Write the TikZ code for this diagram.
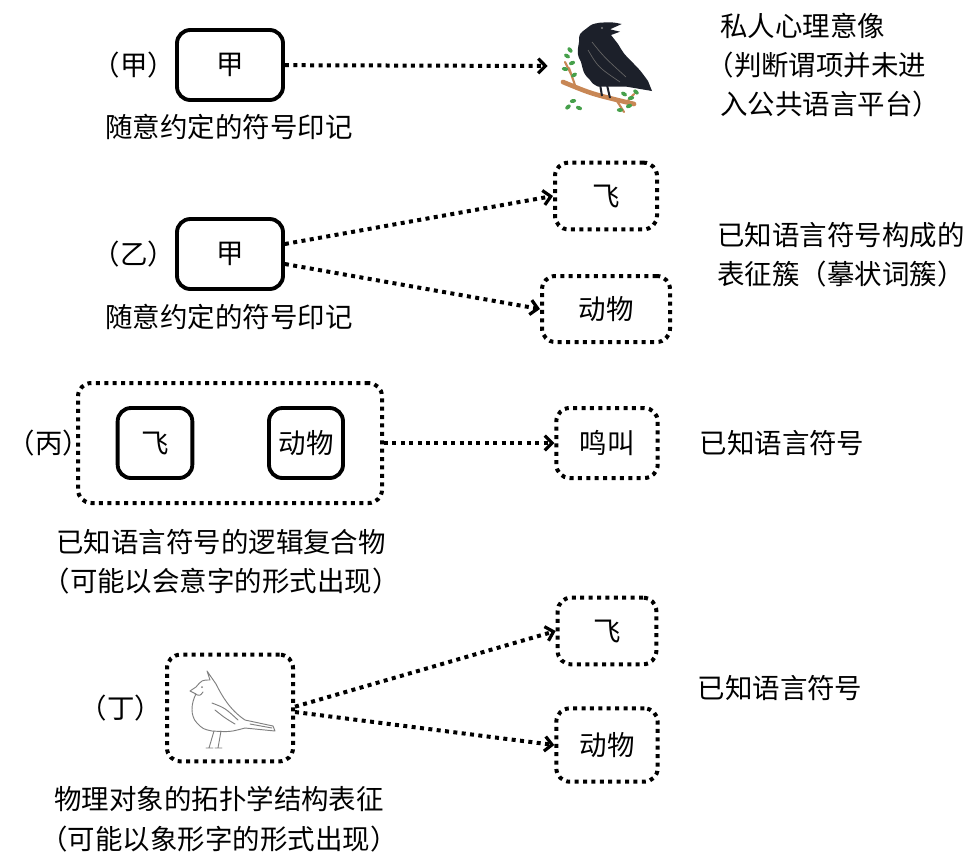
\documentclass[tikz,border=0pt]{standalone}
\usepackage{fontspec}
\setmainfont{Noto Sans CJK SC}
\usetikzlibrary{arrows.meta}
\definecolor{crowblack}{RGB}{28,32,42}
\definecolor{twig}{RGB}{200,135,85}
\definecolor{leaf}{RGB}{70,160,75}
\tikzset{
  sign/.style={draw, line width=2.9pt, rounded corners=10pt, inner sep=0pt},
  rep/.style={draw, line width=3pt, dash pattern=on 3pt off 3.3pt, rounded corners=10pt, inner sep=0pt},
  link/.style={line width=3pt, dash pattern=on 3pt off 3.3pt,
    -{Straight Barb[length=5.5pt,width=11pt,line width=2.4pt]}},
  txt/.style={inner sep=0pt, align=left}
}

\begin{document}
\begin{tikzpicture}[x=0.75pt,y=-0.75pt,
    every node/.append style={font=\fontsize{20.6}{29.5}\selectfont}]
  \fill[white] (0,0) rectangle (977,858);
  \useasboundingbox (0,0) rectangle (977,858);

  % row labels
  \foreach \x/\y/\n/\lab in {
    134/65/a/甲,
    134/254/b/乙,
    49/443/c/丙,
    121/708/d/丁%
  } {
    \node[txt] (lab\n) at (\x, \y) {（\lab）};
  }

  % (甲) sign -> private image
  \node[sign, minimum width=79.5pt, minimum height=52.5pt] (jiaA) at (230,65) {甲};
  \node[inner sep=0pt, minimum width=90pt, minimum height=66pt] (crow) at (608,66) {};
  \begin{scope}[shift={(562,22)}]
    \draw[twig, line width=3.5pt, line cap=round] (1,60) .. controls (30,72) .. (72,82);
    \draw[twig, line width=1.6pt, line cap=round] (14,66) -- (7,46) (9,52) -- (3,40)
      (55,79) -- (62,90) (64,81) -- (72,72);
    \foreach \lx/\ly/\r in {5/34/-30, 10/41/20, 3/47/-10, 12/53/30, 8/28/-50,
      11/79/10, 17/86/-20, 6/85/40, 62/72/-30, 69/76/10, 74/70/-40, 67/84/20, 58/88/0} {
      \fill[leaf, rotate around={\r:(\lx,\ly)}] (\lx,\ly) ellipse (3.2 and 2);
    }
    \fill[crowblack] (59.7,2) .. controls (50,0) .. (38,0.7) .. controls (30,2) .. (24.7,6.3)
      .. controls (17,12) .. (17,20) .. controls (15,32) .. (19,40)
      .. controls (22,52) .. (28,58) .. controls (31,62) .. (36.3,64.7)
      -- (64.7,64.7) -- (90,69) -- (86,59) .. controls (78,48) .. (70,40)
      .. controls (62,32) .. (56,22) .. controls (52,17) .. (49,13)
      -- (58,9.7) -- (48,7.3) -- cycle;
    \draw[black!60, line width=0.5pt] (30,20) .. controls (42,35) .. (64,55)
      (26,28) .. controls (36,45) .. (58,60);
    \fill[gray] (40,6) circle (1.2);
    \draw[crowblack, line width=1.5pt] (38,62) -- (40,74) (45,63) -- (48,76);
  \end{scope}
  \draw[link] (jiaA) -- (crow.west);
  \node[txt, anchor=west] (capA) at (105,127) {随意约定的符号印记};
  \node[txt, anchor=west] (noteA) at (720,65)
    {私人心理意像\\\hspace*{-0.5em}（判断谓项并未进\\入公共语言平台）};

  % (乙) sign -> cluster of known signs
  \node[sign, minimum width=79.5pt, minimum height=52.5pt] (jiaB) at (230,254) {甲};
  \node[rep, minimum width=76.5pt, minimum height=50pt] (feiB) at (606,196) {飞};
  \node[rep, minimum width=96pt, minimum height=49.5pt] (dongwuB) at (606,309) {动物};
  \draw[link] ([yshift=7.5pt]jiaB.east) -- (feiB.west);
  \draw[link] ([yshift=-7.5pt]jiaB.east) -- (dongwuB.west);
  \node[txt, anchor=west] (capB) at (105,317) {随意约定的符号印记};
  \node[txt, anchor=west] (noteB) at (717,255) {已知语言符号构成的\\表征簇（摹状词簇）};

  % (丙) compound of known signs
  \node[rep, minimum width=228pt, minimum height=90pt] (groupC) at (230,443) {};
  \node[sign, minimum width=56pt, minimum height=52.5pt] (feiC) at (155,443) {飞};
  \node[sign, minimum width=55.5pt, minimum height=52.5pt] (dongwuC) at (306,443) {动物};
  \node[rep, minimum width=76pt, minimum height=52.5pt] (mingC) at (607,443) {鸣叫};
  \draw[link] (groupC.east) -- (mingC.west);
  \node[txt, anchor=west] (capC) at (56,562)
    {已知语言符号的逻辑复合物\\\hspace*{-0.5em}（可能以会意字的形式出现）};
  \node[txt] (noteC) at (782,443) {已知语言符号};

  % (丁) picture of the object
  \node[rep, minimum width=94.5pt, minimum height=80pt] (dingD) at (230,708) {};
  \begin{scope}[shift={(dingD.center)}, gray, line width=0.7pt, line cap=round, line join=round]
    \draw (-14,-24) -- (-23,-37) -- (-20,-28) .. controls (-28,-28) .. (-34,-21)
      -- (-40,-17) -- (-34,-14) .. controls (-39,-5) and (-40,8) .. (-33,15)
      .. controls (-27,21) .. (-18,23) .. controls (0,24) .. (15,20) -- (45,23)
      -- (43,18) -- (15,12) .. controls (0,2) and (-8,-12) .. (-14,-24);
    \draw (-18,-5) .. controls (-5,0) .. (8,12) (-15,2) .. controls (-5,10) .. (5,16)
      (20,16) -- (42,20);
    \draw (-35,-14) .. controls (-30,-12) .. (-27,-16);
    \draw (-16,23) -- (-21,40) (-9,23) -- (-12,40) (-24,40) -- (-17,40) (-15,40) -- (-8,40);
    \fill (-28,-21) circle (1);
  \end{scope}
  \node[rep, minimum width=74pt, minimum height=50pt] (feiD) at (607,631) {飞};
  \node[rep, minimum width=76pt, minimum height=55pt] (dongwuD) at (607,745) {动物};
  \draw[link] ([yshift=1pt]dingD.east) -- (feiD.west);
  \draw[link] ([yshift=-3pt]dingD.east) -- (dongwuD.west);
  \node[txt, anchor=west] (capD) at (54,819)
    {物理对象的拓扑学结构表征\\\hspace*{-0.5em}（可能以象形字的形式出现）};
  \node[txt] (noteD) at (780,688) {已知语言符号};
\end{tikzpicture}
\end{document}
